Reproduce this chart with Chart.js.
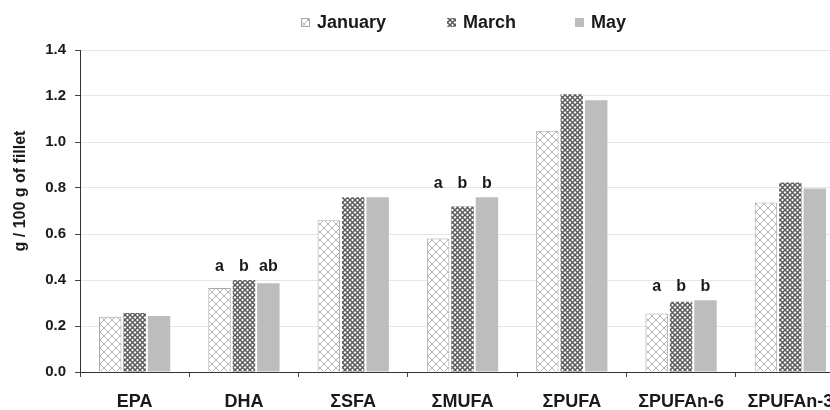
<!DOCTYPE html>
<html>
<head>
<meta charset="utf-8">
<script src="https://cdn.jsdelivr.net/npm/chart.js@4.4.1/dist/chart.umd.min.js"></script>
<style>
  html, body { margin: 0; padding: 0; background: #fff; overflow: hidden; }
  #wrap { position: relative; width: 850px; height: 410px; }
</style>
</head>
<body>
<div id="wrap"><canvas id="chart"></canvas></div>
<script>
  var CATEGORIES = ['EPA', 'DHA', 'ΣSFA', 'ΣMUFA', 'ΣPUFA', 'ΣPUFAn-6', 'ΣPUFAn-3'];
  var SERIES_NAMES = ['January', 'March', 'May'];
  var JANUARY = [0.24, 0.365, 0.66, 0.58, 1.049, 0.254, 0.737];
  var MARCH = [0.257, 0.40, 0.76, 0.72, 1.208, 0.305, 0.824];
  var MAY = [0.243, 0.386, 0.76, 0.76, 1.182, 0.312, 0.798];
  // significance letters per category: [January, March, May]
  var LETTERS = [null, ['a', 'b', 'ab'], null, ['a', 'b', 'b'], null, ['a', 'b', 'b'], null];
  var Y_TICKS = [0, 0.2, 0.4, 0.6, 0.8, 1.0, 1.2, 1.4];
  var Y_TITLE = 'g / 100 g of fillet';

  var FONT = "'Liberation Sans', Arial, sans-serif";

  function makePattern(size, draw) {
    var c = document.createElement('canvas');
    c.width = size; c.height = size;
    var g = c.getContext('2d');
    draw(g, size);
    return g.createPattern(c, 'repeat');
  }

  var janPattern = makePattern(8, function (g, s) {
    g.fillStyle = '#fff';
    g.fillRect(0, 0, s, s);
    g.strokeStyle = '#b4b4b4';
    g.lineWidth = 1;
    g.beginPath();
    g.moveTo(0, 0); g.lineTo(s, s);
    g.moveTo(s, 0); g.lineTo(0, s);
    g.stroke();
  });

  var marPattern = makePattern(5, function (g, s) {
    g.fillStyle = '#fff';
    g.fillRect(0, 0, s, s);
    g.strokeStyle = '#5a5a5a';
    g.lineWidth = 1.5;
    g.beginPath();
    g.moveTo(0, 0); g.lineTo(s, s);
    g.moveTo(s, 0); g.lineTo(0, s);
    g.stroke();
  });

  var mayColor = '#bdbdbd';

  var lettersPlugin = {
    id: 'letters',
    afterDatasetsDraw: function (chart) {
      var c = chart.ctx;
      var y = chart.scales.y;
      c.save();
      c.font = 'bold 16px ' + FONT;
      c.fillStyle = '#1a1a1a';
      c.textAlign = 'center';
      c.textBaseline = 'alphabetic';
      LETTERS.forEach(function (lt, i) {
        if (!lt) return;
        var top = Math.max(JANUARY[i], MARCH[i], MAY[i]);
        var py = y.getPixelForValue(top) - 9;
        lt.forEach(function (t, d) {
          var bar = chart.getDatasetMeta(d).data[i];
          c.fillText(t, bar.x, py);
        });
      });
      c.restore();
    }
  };

  var legendPlugin = {
    id: 'customLegend',
    afterDraw: function (chart) {
      var c = chart.ctx;
      var xs = [301, 447, 575];
      c.save();
      c.font = 'bold 18px ' + FONT;
      c.textBaseline = 'alphabetic';
      chart.data.datasets.forEach(function (ds, i) {
        var x = xs[i];
        c.fillStyle = ds.backgroundColor;
        c.fillRect(x, 18, 9, 9);
        if (i === 0) {
          c.strokeStyle = '#aaa';
          c.lineWidth = 1;
          c.strokeRect(x + 0.5, 18.5, 8, 8);
        }
        c.fillStyle = '#1a1a1a';
        c.fillText(ds.label, x + 16, 28);
      });
      // y axis title
      c.translate(21, 191);
      c.rotate(-Math.PI / 2);
      c.textAlign = 'center';
      c.textBaseline = 'middle';
      c.font = 'bold 16px ' + FONT;
      c.fillText(Y_TITLE, 0, 0);
      c.restore();
    }
  };

  new Chart(document.getElementById('chart'), {
    type: 'bar',
    data: {
      labels: CATEGORIES,
      datasets: [
        { label: SERIES_NAMES[0], data: JANUARY, backgroundColor: janPattern, borderColor: '#a8a8a8', borderWidth: 1 },
        { label: SERIES_NAMES[1], data: MARCH, backgroundColor: marPattern, borderWidth: 0 },
        { label: SERIES_NAMES[2], data: MAY, backgroundColor: mayColor, borderWidth: 0 }
      ]
    },
    options: {
      responsive: true,
      maintainAspectRatio: false,
      animation: false,
      layout: { padding: { top: 50, right: 5, left: 0, bottom: 0 } },
      datasets: { bar: { categoryPercentage: 0.67, barPercentage: 0.92 } },
      plugins: {
        legend: { display: false },
        tooltip: { enabled: false }
      },
      scales: {
        x: {
          offset: true,
          grid: { offset: true, drawOnChartArea: false, drawTicks: true, tickLength: 5, tickColor: '#444' },
          border: { color: '#333', width: 1 },
          ticks: { color: '#1a1a1a', font: { family: FONT, size: 18, weight: 'bold' }, padding: 14 },
          afterFit: function (s) { s.height = 38; }
        },
        y: {
          min: 0,
          max: 1.4,
          afterBuildTicks: function (s) { s.ticks = Y_TICKS.map(function (v) { return { value: v }; }); },
          grid: { color: '#e6e6e6', tickColor: '#444', tickLength: 5 },
          border: { color: '#333', width: 1 },
          ticks: {
            color: '#1a1a1a',
            font: { family: FONT, size: 15, weight: 'bold' },
            padding: 9,
            callback: function (v) { return Number(v).toFixed(1); }
          },
          afterFit: function (s) { s.width = 80; }
        }
      }
    },
    plugins: [lettersPlugin, legendPlugin]
  });
</script>
</body>
</html>
